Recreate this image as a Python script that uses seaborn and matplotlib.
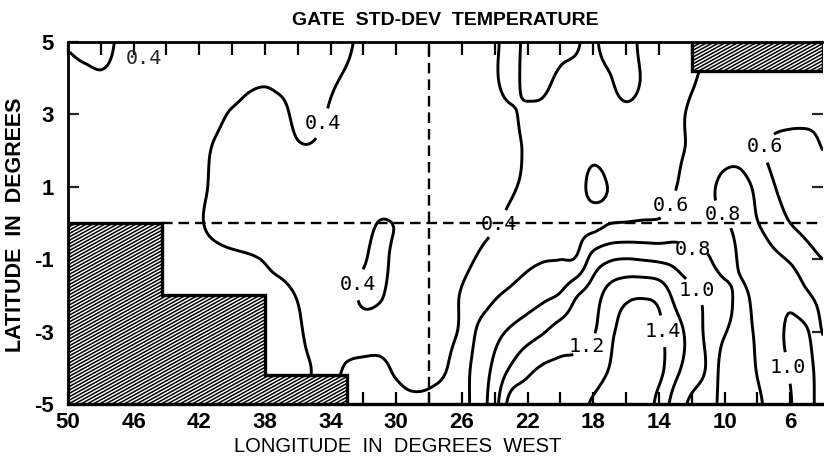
import numpy as np
import matplotlib
matplotlib.use("Agg")
import matplotlib.pyplot as plt
from matplotlib.patches import Polygon
from matplotlib.collections import LineCollection
import seaborn as sns

# ---------------- data ----------------
title = "GATE  STD-DEV  TEMPERATURE"
xlabel = "LONGITUDE  IN  DEGREES  WEST"
ylabel = "LATITUDE  IN  DEGREES"

lons = [50, 49, 48, 47, 46, 45, 44, 43, 42, 41, 40, 39, 38, 37, 36, 35,
        34, 33, 32, 31, 30, 29, 28, 27, 26, 25, 24, 23, 22, 21, 20, 19,
        18, 17, 16, 15, 14, 13, 12, 11, 10, 9, 8, 7, 6, 5, 4]
lats = [5, 4, 3, 2, 1, 0, -1, -2, -3, -4, -5]

# std-dev of temperature, rows by latitude, columns by longitude (50W -> 4W)
sd_p5 = [0.39, 0.36, 0.35, 0.41, 0.44, 0.46, 0.47, 0.47, 0.47, 0.46, 0.46, 0.45, 0.45, 0.44, 0.44, 0.43,
         0.42, 0.41, 0.38, 0.35, 0.33, 0.32, 0.32, 0.33, 0.34, 0.36, 0.39, 0.42, 0.38, 0.35, 0.36, 0.37,
         0.56, 0.66, 0.68, 0.56, 0.52, 0.53, 0.56, 0.60, 0.62, 0.63, 0.63, 0.63, 0.63, 0.62, 0.62]
sd_p4 = [0.44, 0.43, 0.415, 0.43, 0.45, 0.46, 0.47, 0.47, 0.47, 0.46, 0.45, 0.42, 0.41, 0.42, 0.43, 0.42,
         0.41, 0.39, 0.36, 0.33, 0.31, 0.30, 0.30, 0.31, 0.33, 0.36, 0.39, 0.43, 0.37, 0.38, 0.42, 0.48,
         0.54, 0.59, 0.66, 0.59, 0.53, 0.54, 0.585, 0.63, 0.66, 0.68, 0.68, 0.67, 0.66, 0.65, 0.64]
sd_p3 = [0.46, 0.46, 0.46, 0.46, 0.46, 0.46, 0.45, 0.44, 0.43, 0.42, 0.39, 0.37, 0.37, 0.38, 0.42, 0.42,
         0.39, 0.35, 0.32, 0.30, 0.29, 0.28, 0.28, 0.29, 0.31, 0.34, 0.37, 0.39, 0.415, 0.42, 0.45, 0.48,
         0.52, 0.55, 0.57, 0.56, 0.54, 0.57, 0.62, 0.66, 0.70, 0.72, 0.70, 0.66, 0.64, 0.63, 0.62]
sd_p2 = [0.47, 0.47, 0.47, 0.46, 0.46, 0.45, 0.44, 0.43, 0.42, 0.39, 0.36, 0.35, 0.35, 0.36, 0.39, 0.39,
         0.36, 0.33, 0.31, 0.29, 0.28, 0.28, 0.28, 0.29, 0.31, 0.34, 0.37, 0.385, 0.41, 0.45, 0.48, 0.51,
         0.55, 0.53, 0.54, 0.55, 0.56, 0.58, 0.62, 0.68, 0.74, 0.74, 0.64, 0.56, 0.54, 0.55, 0.60]
sd_p1 = [0.48, 0.48, 0.48, 0.47, 0.47, 0.46, 0.45, 0.44, 0.42, 0.38, 0.35, 0.34, 0.34, 0.34, 0.35, 0.35,
         0.34, 0.33, 0.32, 0.32, 0.32, 0.31, 0.30, 0.30, 0.32, 0.34, 0.37, 0.39, 0.42, 0.45, 0.48, 0.51,
         0.66, 0.59, 0.54, 0.55, 0.57, 0.595, 0.68, 0.76, 0.84, 0.85, 0.76, 0.61, 0.54, 0.52, 0.54]
sd_00 = [0.49, 0.49, 0.49, 0.48, 0.48, 0.47, 0.46, 0.44, 0.41, 0.37, 0.34, 0.33, 0.33, 0.33, 0.34, 0.35,
         0.35, 0.35, 0.36, 0.405, 0.395, 0.37, 0.35, 0.35, 0.36, 0.37, 0.39, 0.43, 0.47, 0.50, 0.53, 0.555,
         0.54, 0.595, 0.605, 0.615, 0.62, 0.66, 0.70, 0.77, 0.79, 0.83, 0.805, 0.70, 0.60, 0.55, 0.53]
sd_m1 = [0.48, 0.48, 0.48, 0.48, 0.48, 0.48, 0.48, 0.46, 0.44, 0.43, 0.42, 0.41, 0.395, 0.37, 0.35, 0.34,
         0.34, 0.35, 0.39, 0.43, 0.37, 0.35, 0.33, 0.34, 0.37, 0.41, 0.46, 0.51, 0.56, 0.59, 0.598, 0.62,
         0.88, 0.98, 1.005, 0.99, 0.97, 0.94, 0.85, 0.81, 0.75, 0.82, 0.88, 0.84, 0.78, 0.67, 0.60]
sd_m2 = [0.48, 0.48, 0.48, 0.48, 0.48, 0.48, 0.47, 0.46, 0.45, 0.44, 0.43, 0.43, 0.42, 0.42, 0.395, 0.36,
         0.35, 0.36, 0.42, 0.41, 0.36, 0.34, 0.34, 0.36, 0.41, 0.49, 0.58, 0.64, 0.70, 0.76, 0.82, 0.99,
         1.10, 1.28, 1.36, 1.38, 1.34, 1.15, 1.06, 0.94, 0.84, 0.78, 0.84, 0.92, 0.95, 0.83, 0.74]
sd_m3 = [0.43, 0.43, 0.43, 0.43, 0.43, 0.43, 0.43, 0.43, 0.43, 0.43, 0.43, 0.43, 0.42, 0.41, 0.41, 0.37,
         0.35, 0.35, 0.36, 0.36, 0.35, 0.34, 0.34, 0.36, 0.43, 0.63, 0.74, 0.83, 0.91, 0.99, 1.08, 1.12,
         1.18, 1.36, 1.46, 1.50, 1.44, 1.26, 1.14, 0.94, 0.81, 0.77, 0.82, 0.93, 1.03, 1.02, 0.79]
sd_m4 = [0.43, 0.43, 0.43, 0.43, 0.43, 0.43, 0.43, 0.43, 0.43, 0.43, 0.43, 0.43, 0.42, 0.42, 0.42, 0.395,
         0.37, 0.41, 0.42, 0.42, 0.385, 0.355, 0.355, 0.39, 0.52, 0.68, 0.84, 1.02, 1.15, 1.22, 1.24, 1.25,
         1.30, 1.405, 1.52, 1.54, 1.46, 1.25, 1.12, 0.97, 0.72, 0.72, 0.81, 0.92, 1.01, 1.06, 0.90]
sd_m5 = [0.45, 0.45, 0.45, 0.45, 0.45, 0.45, 0.45, 0.45, 0.45, 0.45, 0.45, 0.45, 0.45, 0.45, 0.45, 0.38,
         0.38, 0.45, 0.45, 0.44, 0.43, 0.42, 0.43, 0.47, 0.54, 0.69, 0.92, 1.28, 1.30, 1.31, 1.32, 1.35,
         1.42, 1.50, 1.55, 1.52, 1.34, 1.12, 0.96, 0.88, 0.74, 0.72, 0.77, 0.88, 0.99, 1.06, 0.92]

levels = [0.4, 0.6, 0.8, 1.0, 1.2, 1.4]

# land outlines (lon, lat)
land_west_lon = [50, 44.3, 44.3, 38, 38, 33, 33, 50]
land_west_lat = [0, 0, -2, -2, -4.2, -4.2, -5, -5]
land_east_lon = [12, 12, 4, 4]
land_east_lat = [5, 4.2, 4.2, 5]

# reference lines
meridian_lon = 28
equator_lat = 0

# contour label anchor points: (level, lon, lat)
label_points = [(0.4, 34.5, 2.75), (0.4, 32.3, -1.7), (0.4, 23.9, 0.0),
                (0.6, 13.8, 0.6), (0.6, 7.5, 2.1),
                (0.8, 12.0, -0.8), (0.8, 10.2, 0.2),
                (1.0, 11.8, -1.9), (1.0, 6.1, -4.0),
                (1.2, 18.2, -3.5), (1.4, 13.9, -3.0)]
free_label = (0.4, 45.4, 4.55)

xticks = [50, 46, 42, 38, 34, 30, 26, 22, 18, 14, 10, 6]
xticks_minor = [48, 44, 40, 36, 32, 28, 24, 20, 16, 12, 8]
yticks = [5, 3, 1, -1, -3, -5]
yticklabels = ["5", "3", "1", "-1", "-3", "-5"]

# ---------------- helpers ----------------
def catmull_rom(a, factor, axis):
    a = np.moveaxis(np.asarray(a, float), axis, 0)
    n = a.shape[0]
    t = np.linspace(0, n - 1, (n - 1) * factor + 1)
    i = np.clip(np.floor(t).astype(int), 0, n - 2)
    f = (t - i).reshape((-1,) + (1,) * (a.ndim - 1))
    p0 = a[np.clip(i - 1, 0, n - 1)]
    p1 = a[i]
    p2 = a[i + 1]
    p3 = a[np.clip(i + 2, 0, n - 1)]
    out = 0.5 * (2 * p1 + (-p0 + p2) * f + (2 * p0 - 5 * p1 + 4 * p2 - p3) * f ** 2
                 + (-p0 + 3 * p1 - 3 * p2 + p3) * f ** 3)
    return np.moveaxis(out, 0, axis)

# ---------------- style ----------------
sns.set_theme(style="ticks")
plt.rcParams["font.family"] = ["Liberation Sans", "DejaVu Sans"]
plt.rcParams["axes.unicode_minus"] = False

Z = np.array([sd_p5, sd_p4, sd_p3, sd_p2, sd_p1, sd_00, sd_m1, sd_m2, sd_m3, sd_m4, sd_m5])
lon_a = np.array(lons, float)[::-1]
lat_a = np.array(lats, float)[::-1]
Z = Z[::-1, ::-1]

fac = 8
Zf = catmull_rom(catmull_rom(Z, fac, 0), fac, 1)
lonf = np.linspace(lon_a[0], lon_a[-1], (len(lon_a) - 1) * fac + 1)
latf = np.linspace(lat_a[0], lat_a[-1], (len(lat_a) - 1) * fac + 1)
LON, LAT = np.meshgrid(lonf, latf)

AX_W, AX_H = 755, 362
fig = plt.figure(figsize=(8.24, 4.68), dpi=100)
ax = fig.add_axes([68 / 824, 64 / 468, AX_W / 824, AX_H / 468])

def fmt(v):
    return f"{v:.1f}"

sets = {}
for lev in levels:
    sets[lev] = ax.contour(LON, LAT, Zf, levels=[lev], colors="black",
                           linewidths=2.1, zorder=2)

all_texts = []
for lev in levels:
    pts = [(x, y) for (l, x, y) in label_points if l == lev]
    if pts:
        sets[lev].clabel(manual=pts, inline=True, inline_spacing=2,
                         fmt=fmt, fontsize=14.5)
        all_texts.extend(sets[lev].labelTexts)
for t in all_texts:
    t.set_rotation(0)
    t.set_fontfamily("DejaVu Sans Mono")
    t.set_zorder(5)

ax.text(free_label[1], free_label[2], fmt(free_label[0]), fontsize=14.5,
        family="DejaVu Sans Mono", ha="center", va="center", zorder=5)

# land: white fill, fine diagonal hatching (drawn as clipped lines), heavy outline
slope, step = 0.55, 3.4
offsets = np.arange(-slope * AX_W - 10, AX_H + 10, step)
for xs, ys in [(land_west_lon, land_west_lat), (land_east_lon, land_east_lat)]:
    verts = np.column_stack([xs, ys])
    fill = Polygon(verts, closed=True, facecolor="white", edgecolor="none", zorder=3)
    ax.add_patch(fill)
    segs = [[(0, c / AX_H), (1, (slope * AX_W + c) / AX_H)] for c in offsets]
    lc = LineCollection(segs, colors="black", linewidths=1.1, transform=ax.transAxes,
                        zorder=3.1)
    ax.add_collection(lc)
    lc.set_clip_path(fill)
    outline = Polygon(verts, closed=True, fill=False, edgecolor="black",
                      linewidth=2.4, zorder=3.2)
    ax.add_patch(outline)

ax.vlines(meridian_lon, -5, 5, colors="black", linewidth=1.7,
          linestyles=(0, (4.5, 2.5)), zorder=2.5)
ax.hlines(equator_lat, 44.3, 4, colors="black", linewidth=1.7,
          linestyles=(0, (4.5, 2.5)), zorder=2.5)

ax.set_xlim(50, 4)
ax.set_ylim(-5, 5)
ax.set_xticks(xticks)
ax.set_xticklabels([str(v) for v in xticks])
ax.set_xticks(xticks_minor, minor=True)
ax.set_yticks(yticks)
ax.set_yticklabels(yticklabels)

ax.tick_params(axis="x", which="both", direction="in", top=True, bottom=True,
               length=9, width=1.6, color="black")
ax.tick_params(axis="x", which="major", pad=6, labelsize=16, labelcolor="black")
ax.tick_params(axis="y", which="major", direction="in", left=True, right=True,
               length=8, width=1.6, pad=10, labelsize=16, labelcolor="black")
for lab in ax.get_xticklabels() + ax.get_yticklabels():
    lab.set_fontweight("bold")

for side in ["left", "bottom", "top"]:
    ax.spines[side].set_linewidth(2.0)
    ax.spines[side].set_color("black")
ax.spines["bottom"].set_linewidth(2.4)
ax.spines["right"].set_visible(False)

ax.set_title(title, fontsize=14, fontweight="bold", pad=12, color="black")
ax.set_xlabel(xlabel, fontsize=14.5, color="black")
ax.xaxis.set_label_coords(0.437, -0.09)
ax.set_ylabel(ylabel, fontsize=15.5, fontweight="bold", color="black")
ax.yaxis.set_label_coords(-0.056, 0.494)

ax.set_facecolor("white")
fig.patch.set_facecolor("white")
fig.savefig("out.png", dpi=100)
